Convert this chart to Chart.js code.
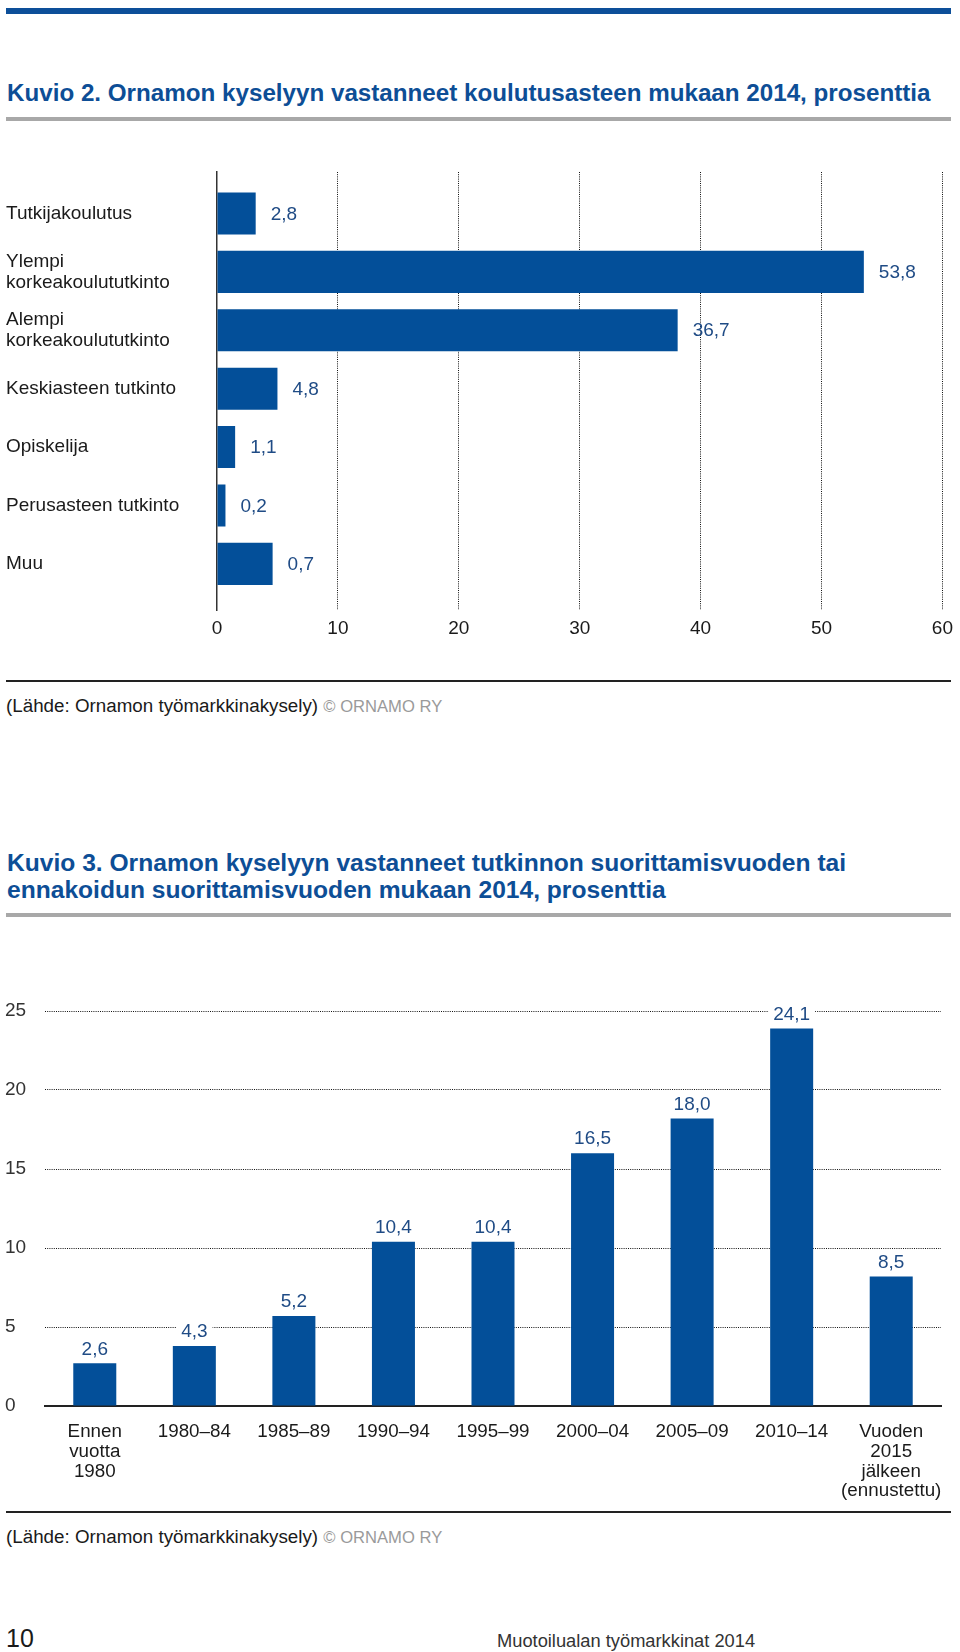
<!DOCTYPE html>
<html>
<head>
<meta charset="utf-8">
<script src="https://cdn.jsdelivr.net/npm/chart.js@4.4.0/dist/chart.umd.min.js"></script>
<style>
  body { margin: 0; width: 960px; height: 1652px; position: relative; background: #fff;
         font-family: "Liberation Sans", Arial, sans-serif; color: #1a1a1a; overflow: hidden; }
  .abs { position: absolute; }
  .title { left: 7px; color: #0d4e96; font-weight: bold; line-height: 26.5px; white-space: nowrap; }
  .grey { left: 6px; width: 945px; height: 4px; background: #a8a8a8; }
  .rule { left: 6px; width: 945px; height: 2px; background: #222; }
  .src { left: 6px; font-size: 18.8px; line-height: 20px; white-space: nowrap; }
  .src span { color: #9a9a9a; font-size: 16.6px; }
</style>
</head>
<body>
<div class="abs" style="left:6px;top:8px;width:945px;height:6px;background:#0d4f99"></div>

<div class="abs title" style="top:80px;font-size:24.2px">Kuvio 2. Ornamon kyselyyn vastanneet koulutusasteen mukaan 2014, prosenttia</div>
<div class="abs grey" style="top:117px"></div>
<div class="abs" style="left:0;top:150px;width:960px;height:500px"><canvas id="eduChart"></canvas></div>
<div class="abs rule" style="top:680px"></div>
<div class="abs src" style="top:696px">(Lähde: Ornamon työmarkkinakysely) <span>© ORNAMO RY</span></div>

<div class="abs title" style="top:850px;font-size:24.6px">Kuvio 3. Ornamon kyselyyn vastanneet tutkinnon suorittamisvuoden tai<br>ennakoidun suorittamisvuoden mukaan 2014, prosenttia</div>
<div class="abs grey" style="top:913px"></div>
<div class="abs" style="left:0;top:980px;width:960px;height:530px"><canvas id="yearChart"></canvas></div>
<div class="abs rule" style="top:1511px"></div>
<div class="abs src" style="top:1527px">(Lähde: Ornamon työmarkkinakysely) <span>© ORNAMO RY</span></div>

<div class="abs" style="left:6px;top:1625px;font-size:25px;line-height:27px">10</div>
<div class="abs" style="left:497px;top:1631px;font-size:18.3px;line-height:20px;color:#333;white-space:nowrap">Muotoilualan työmarkkinat 2014</div>

<script>
// Kuvio 2 - koulutusaste
const eduLabels = ['Tutkijakoulutus', ['Ylempi', 'korkeakoulututkinto'], ['Alempi', 'korkeakoulututkinto'],
                   'Keskiasteen tutkinto', 'Opiskelija', 'Perusasteen tutkinto', 'Muu'];
const eduBars = [3.2, 53.5, 38.1, 5.0, 1.5, 0.7, 4.6];              // bar lengths as drawn in the picture
const eduValues = ['2,8', '53,8', '36,7', '4,8', '1,1', '0,2', '0,7']; // printed value labels
const eduTicks = [0, 10, 20, 30, 40, 50, 60];

// Kuvio 3 - suoritusvuosi
const yearLabels = [['Ennen', 'vuotta', '1980'], '1980–84', '1985–89', '1990–94', '1995–99',
                    '2000–04', '2005–09', '2010–14', ['Vuoden', '2015', 'jälkeen', '(ennustettu)']];
const yearBars = [2.7, 3.8, 5.7, 10.4, 10.4, 16.0, 18.2, 23.9, 8.2];
const yearValues = ['2,6', '4,3', '5,2', '10,4', '10,4', '16,5', '18,0', '24,1', '8,5'];
const yearTicks = [0, 5, 10, 15, 20, 25];

const BLUE = '#034f99';
const GRID = '#111';
const FONT = '"Liberation Sans", Arial, sans-serif';
Chart.defaults.font.family = FONT;
Chart.defaults.color = '#1a1a1a';
Chart.defaults.animation = false;

// value labels next to / above the bars
const valueLabels = {
  id: 'valueLabels',
  afterDatasetsDraw(chart, args, opts) {
    const ctx = chart.ctx;
    const meta = chart.getDatasetMeta(0);
    ctx.save();
    ctx.font = '19px ' + FONT;
    meta.data.forEach((bar, i) => {
      const txt = opts.texts[i];
      if (opts.horizontal) {
        ctx.fillStyle = '#1f4b85';
        ctx.textAlign = 'left';
        ctx.textBaseline = 'middle';
        ctx.fillText(txt, bar.x + 15, bar.y + 1);
      } else {
        const w = ctx.measureText(txt).width;
        ctx.fillStyle = '#fff';
        ctx.fillRect(bar.x - w / 2 - 5, bar.y - 21, w + 10, 14);
        ctx.fillStyle = '#1f4b85';
        ctx.textAlign = 'center';
        ctx.textBaseline = 'middle';
        ctx.fillText(txt, bar.x, bar.y - 14);
      }
    });
    ctx.restore();
  }
};

new Chart(document.getElementById('eduChart'), {
  type: 'bar',
  data: {
    datasets: [{
      data: eduBars.map((v, i) => ({ x: v, y: i })),
      backgroundColor: BLUE,
      barPercentage: 0.72,
      categoryPercentage: 1
    }]
  },
  options: {
    indexAxis: 'y',
    responsive: true,
    maintainAspectRatio: false,
    layout: { padding: { left: 6, right: 17, top: 22, bottom: 0 } },
    scales: {
      x: {
        type: 'linear',
        min: eduTicks[0],
        max: eduTicks[eduTicks.length - 1],
        ticks: { stepSize: eduTicks[1] - eduTicks[0], padding: 7, color: '#1a1a1a', font: { size: 19 } },
        grid: {
          drawTicks: false,
          color: ctx => ctx.tick && ctx.tick.value === 0 ? 'rgba(0,0,0,0)' : GRID,
          lineWidth: 1
        },
        border: { display: false, dash: [1, 1.2] },
        afterFit: s => { s.height = 40; }
      },
      y: {
        type: 'linear',
        offset: false,
        reverse: true,
        min: -0.71,
        max: 6.79,
        afterBuildTicks: s => { s.ticks = s.ticks.filter(t => Number.isInteger(t.value)); },
        ticks: {
          stepSize: 1,
          crossAlign: 'far',
          padding: 0,
          color: '#1a1a1a',
          font: { size: 19, lineHeight: 1.105 },
          callback: v => Number.isInteger(v) ? eduLabels[v] : ''
        },
        grid: { display: false },
        border: { display: true, color: '#333', width: 1.5 },
        afterFit: s => { s.width = 211; }
      }
    },
    plugins: {
      legend: { display: false },
      tooltip: { enabled: false },
      valueLabels: { texts: eduValues, horizontal: true }
    }
  },
  plugins: [valueLabels]
});

new Chart(document.getElementById('yearChart'), {
  type: 'bar',
  data: {
    labels: yearLabels,
    datasets: [{
      data: yearBars,
      backgroundColor: BLUE,
      barPercentage: 0.432,
      categoryPercentage: 1
    }]
  },
  options: {
    responsive: true,
    maintainAspectRatio: false,
    layout: { padding: { left: 5, right: 19, top: 31, bottom: 0 } },
    scales: {
      x: {
        ticks: { autoSkip: false, maxRotation: 0, padding: 16, color: '#1a1a1a', font: { size: 18.8, lineHeight: 1.05 } },
        grid: { display: false, drawTicks: false },
        border: { display: true, color: '#222', width: 2 },
        afterFit: s => { s.height = 104; }
      },
      y: {
        min: yearTicks[0],
        max: yearTicks[yearTicks.length - 1],
        ticks: { stepSize: yearTicks[1] - yearTicks[0], crossAlign: 'far', padding: 0, color: '#333', font: { size: 19 } },
        grid: {
          drawTicks: false,
          color: ctx => ctx.tick && ctx.tick.value === 0 ? 'rgba(0,0,0,0)' : GRID,
          lineWidth: 1
        },
        border: { display: false, dash: [1, 1.2] },
        afterFit: s => { s.width = 40; }
      }
    },
    plugins: {
      legend: { display: false },
      tooltip: { enabled: false },
      valueLabels: { texts: yearValues, horizontal: false }
    }
  },
  plugins: [valueLabels]
});
</script>
</body>
</html>
